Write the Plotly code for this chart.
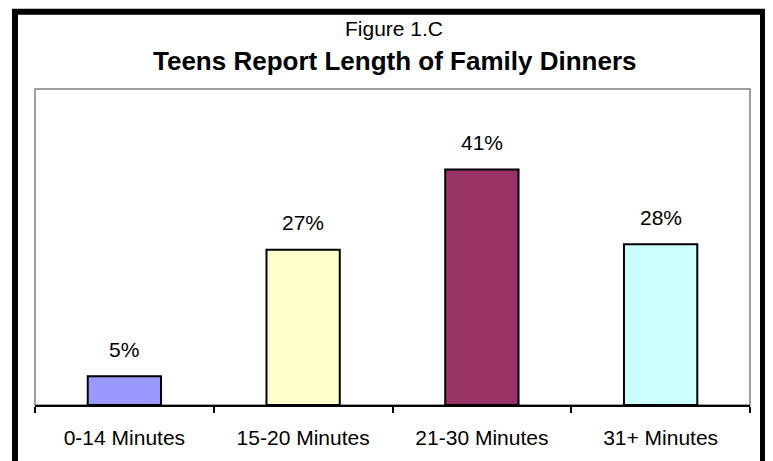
import plotly.graph_objects as go

categories = ['0-14 Minutes', '15-20 Minutes', '21-30 Minutes', '31+ Minutes']
values = [5, 27, 41, 28]
bar_colors = ['#9999FF', '#FFFFCC', '#993366', '#CCFFFF']
value_labels = ['5%', '27%', '41%', '28%']

OFF = 8   # page body margin of the html page
W, H = 773 - OFF, 461 - OFF
L, R, T, B = 35 - OFF, 750 - OFF, 89 - OFF, 412 - OFF   # plot area in pixels


def px(x):
    # x given in screenshot pixels
    return (x - OFF - L) / (R - L)


def py(y):
    return (B - (y - OFF)) / (B - T)


font = 'Arial, Liberation Sans, sans-serif'

fig = go.Figure(
    data=[go.Bar(x=categories, y=values, width=0.41,
                 marker={'color': bar_colors, 'line': {'color': 'black', 'width': 2}},
                 showlegend=False, hoverinfo='skip')],
    layout={'width': W, 'height': H,
            'margin': {'l': L, 'r': W - R, 't': T, 'b': H - B, 'pad': 0},
            'paper_bgcolor': 'white', 'plot_bgcolor': 'white',
            'font': {'family': font, 'color': 'black', 'size': 21},
            'xaxis': {'showline': True, 'linecolor': 'black', 'linewidth': 1.5,
                      'ticks': 'outside', 'tickson': 'boundaries', 'ticklen': 6,
                      'tickcolor': 'black', 'tickwidth': 1.5, 'ticklabelstandoff': 13,
                      'showgrid': False, 'tickfont': {'size': 21}},
            'yaxis': {'range': [0, 55], 'visible': False, 'showgrid': False,
                      'zeroline': False},
            'bargap': 0.59}
)

# value labels above bars
for c, v, t in zip(categories, values, value_labels):
    fig.add_annotation(x=c, y=v, text=t, showarrow=False, yanchor='middle',
                       yshift=27, font={'size': 21})

# titles
fig.add_annotation(xref='paper', yref='paper', x=px(394), y=py(27), text='Figure 1.C',
                   showarrow=False, xanchor='center', yanchor='middle', font={'size': 21})
fig.add_annotation(xref='paper', yref='paper', x=px(394), y=py(60),
                   text='<b>Teens Report Length of Family Dinners</b>',
                   showarrow=False, xanchor='center', yanchor='middle', font={'size': 26})

# plot area border (grey)
fig.add_shape(type='rect', xref='paper', yref='paper', x0=0, x1=1, y0=0, y1=1,
              line={'color': '#808080', 'width': 1.5}, layer='below')
# outer frame with shadow
fig.add_shape(type='rect', xref='paper', yref='paper', x0=px(15), x1=px(763),
              y0=py(480), y1=py(10), line={'color': 'black', 'width': 6})
fig.add_shape(type='rect', xref='paper', yref='paper', x0=px(763), x1=px(771),
              y0=py(480), y1=py(13), line={'width': 0}, fillcolor='black')

fig.write_html('out.html')
